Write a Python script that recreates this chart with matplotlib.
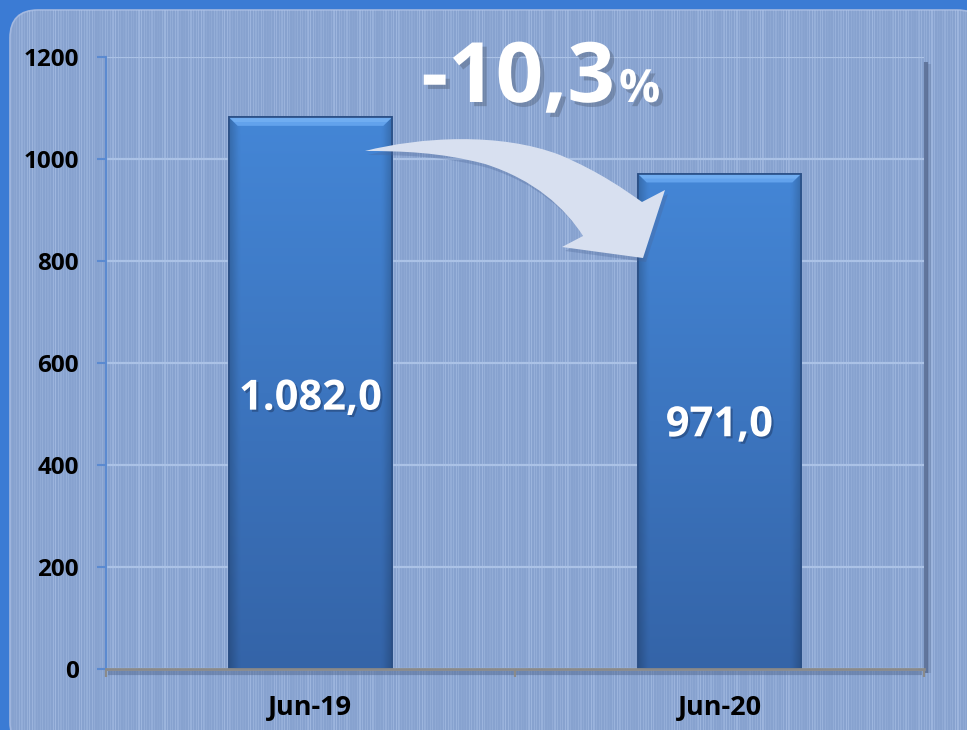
import numpy as np
import matplotlib.pyplot as plt
from matplotlib.patches import FancyBboxPatch, Polygon, PathPatch
from matplotlib.path import Path
from matplotlib.transforms import Affine2D
import matplotlib.patheffects as pe

plt.rcParams['font.family'] = ['Open Sans', 'DejaVu Sans']
plt.rcParams['font.weight'] = 'bold'

# data
categories = ['Jun-19', 'Jun-20']
values = [1082.0, 971.0]
y_ticks = [0, 200, 400, 600, 800, 1000, 1200]

W, H = 967, 730
fig = plt.figure(figsize=(W / 100, H / 100), dpi=100)
fig.patch.set_facecolor('#3b7bd4')

# background panel with stripe texture
ax_bg = fig.add_axes([0, 0, 1, 1], zorder=0)
ax_bg.set_xlim(0, W)
ax_bg.set_ylim(H, 0)
ax_bg.axis('off')
panel = FancyBboxPatch((10, 10), 975, 740, boxstyle='round,pad=0,rounding_size=28',
                       fc='#87a2cf', ec='#a3b8df', lw=1.2, zorder=1)
ax_bg.add_patch(panel)
col = np.arange(W)
fine = (np.sin(col * 2 * np.pi / 2.6) > 0.2).astype(float)
coarse = 0.55 + 0.45 * np.sin(col * 2 * np.pi / 43.0) * np.sin(col * 2 * np.pi / 17.0)
stripe = fine * coarse
tex = np.zeros((2, W, 4))
tex[..., 0] = 178 / 255
tex[..., 1] = 200 / 255
tex[..., 2] = 236 / 255
tex[..., 3] = stripe * 0.55
im = ax_bg.imshow(tex, extent=[0, W, H, 0], aspect='auto', interpolation='none', zorder=1.5)
im.set_clip_path(panel)

# wall / floor shadows
ax_bg.plot([926, 926], [62, 673], color='#5a6d93', lw=3, alpha=0.85, solid_capstyle='butt', zorder=2)
ax_bg.plot([929, 929], [64, 673], color='#5a6d93', lw=3, alpha=0.3, solid_capstyle='butt', zorder=2)
ax_bg.plot([108, 922], [672.5, 672.5], color='#4d6289', lw=3, alpha=0.45, solid_capstyle='butt', zorder=2)

# main chart
ax = fig.add_axes([106 / W, 1 - 669 / H, 818 / W, 612 / H], zorder=1)
ax.set_facecolor('none')
x = np.arange(len(categories))
bw = 0.4
bars = ax.bar(x, values, width=bw, color='#3f7bcb', edgecolor='#2b4f85', lw=1.2, zorder=2)

ny = 200
nx = 60
vert = np.linspace(0, 1, ny)[:, None]          # 0 top -> 1 bottom
top_c = np.array([68, 134, 214]) / 255
bot_c = np.array([52, 100, 168]) / 255
hx = np.linspace(-1, 1, nx)[None, :]
edge = 1 - 0.18 * np.clip((np.abs(hx) - 0.88) / 0.12, 0, 1)
for b, v in zip(bars, values):
    img = (top_c[None, None, :] * (1 - vert[..., None]) + bot_c[None, None, :] * vert[..., None])
    img = img * edge[..., None]
    gi = ax.imshow(img, extent=[b.get_x(), b.get_x() + bw, 0, v], aspect='auto',
                   zorder=2.1, interpolation='bilinear')
    gi.set_clip_path(b)
    # top bevel
    bx0, bx1 = b.get_x(), b.get_x() + bw
    d = 0.022
    bh = 17
    ax.add_patch(Polygon([[bx0, v], [bx1, v], [bx1 - d, v - bh], [bx0 + d, v - bh]],
                         closed=True, fc='#62a2ec', ec='none', zorder=2.2))
    ax.add_patch(Polygon([[bx0 + 0.004, v - 2], [bx1 - 0.004, v - 2], [bx1 - d * 0.6, v - bh * 0.55],
                          [bx0 + d * 0.6, v - bh * 0.55]],
                         closed=True, fc='#7bb6f6', ec='none', alpha=0.6, zorder=2.3))
    ax.add_patch(plt.Rectangle((bx0, 0), bw, v, fill=False, ec='#2b4f85', lw=1.2, zorder=2.4))
    ax.text(b.get_x() + bw / 2, v * 0.47, f'{v:,.1f}'.replace(',', 'X').replace('.', ',').replace('X', '.'),
            ha='center', va='baseline', color='white', fontsize=30, fontweight='bold', zorder=3,
            path_effects=[pe.withSimplePatchShadow(offset=(1.5, -1.5), shadow_rgbFace='#1f3a66', alpha=0.5)])

ax.set_xlim(-0.5, 1.5)
ax.set_ylim(0, 1200)
ax.set_yticks(y_ticks)
ax.set_xticks(x)
ax.set_xticklabels(categories)
ax.set_xticks([-0.5, 0.5, 1.5], minor=True)
ax.yaxis.grid(True, color='#abc2e6', lw=1.6)
ax.set_axisbelow(True)
for s in ['top', 'right']:
    ax.spines[s].set_visible(False)
ax.spines['left'].set_color('#5b8ad0')
ax.spines['left'].set_linewidth(1.5)
ax.spines['bottom'].set_color('#8a8a8a')
ax.spines['bottom'].set_linewidth(2)
ax.spines['bottom'].set_zorder(3)
ax.tick_params(axis='y', length=6.5, width=1.5, color='#5b8ad0', pad=13,
               labelsize=17.5, labelcolor='black')
ax.tick_params(axis='x', which='major', length=0, pad=19, labelsize=19.5, labelcolor='black')
ax.tick_params(axis='x', which='minor', length=6, width=1.6, color='#8a8a8a')
for t in ax.get_xticklabels() + ax.get_yticklabels():
    t.set_fontweight('bold')

# overlay: curved arrow and change label
ov = fig.add_axes([0, 0, 1, 1], zorder=2)
ov.set_xlim(0, W)
ov.set_ylim(H, 0)
ov.axis('off')
ov.set_facecolor('none')

verts = [
    (365, 151),
    (420, 137), (500, 132), (560, 155),
    (600, 172), (625, 190), (642, 202),
    (665, 190),
    (643, 258),
    (562, 247),
    (583, 236),
    (565, 208), (535, 180), (485, 164),
    (440, 152), (400, 151), (365, 151),
]
codes = [Path.MOVETO,
         Path.CURVE4, Path.CURVE4, Path.CURVE4,
         Path.CURVE4, Path.CURVE4, Path.CURVE4,
         Path.LINETO, Path.LINETO, Path.LINETO, Path.LINETO,
         Path.CURVE4, Path.CURVE4, Path.CURVE4,
         Path.CURVE4, Path.CURVE4, Path.CURVE4]
arrow_path = Path(verts, codes)
shadow = PathPatch(arrow_path, fc='#4a6496', ec='none', alpha=0.3,
                   transform=ov.transData + Affine2D().translate(3, -4))
ov.add_patch(shadow)
ov.add_patch(PathPatch(arrow_path, fc='#d8e0f0', ec='none'))

change = (values[1] - values[0]) / values[0] * 100
shadow_fx = [pe.withSimplePatchShadow(offset=(3, -3), shadow_rgbFace='#55647d', alpha=0.45)]
ov.text(615, 102, f'{change:.1f}'.replace('.', ','), ha='right', va='baseline',
        color='white', fontsize=60, fontweight='bold', path_effects=shadow_fx)
ov.text(619, 102, '%', ha='left', va='baseline', color='white', fontsize=33,
        fontweight='bold', path_effects=shadow_fx)

fig.savefig('out.png', dpi=100, facecolor=fig.get_facecolor())
